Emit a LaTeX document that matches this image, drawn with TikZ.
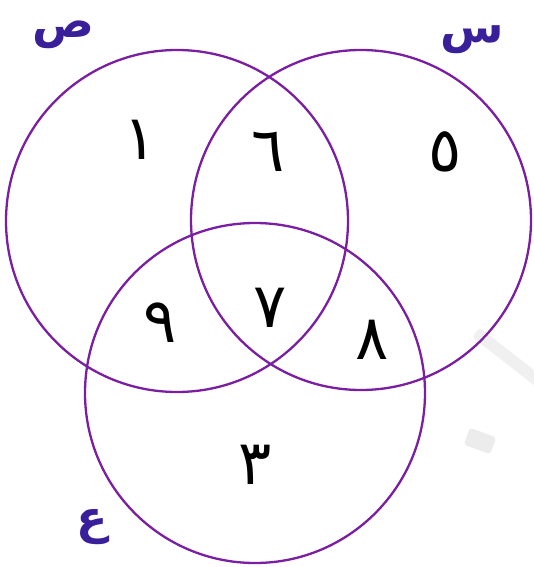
\documentclass[tikz,border=0pt]{standalone}
\usepackage{fontspec}
\TeXXeTstate=1
\newfontfamily\arabicfont[Script=Arabic]{DejaVu Sans}
\definecolor{circpurple}{HTML}{7B1FA2}
\definecolor{letterblue}{HTML}{3A1F9A}
\tikzset{
  setcircle/.style={draw=circpurple, line width=2.3pt},
  digit/.style={font=\arabicfont\fontsize{62}{62}\selectfont, text=black, inner sep=0pt},
  setname/.style={font=\arabicfont\bfseries\fontsize{46}{46}\selectfont, text=letterblue, inner sep=0pt},
}
\begin{document}
\begin{tikzpicture}[x=1pt,y=-1pt]
\useasboundingbox (0,0) rectangle (534,567);
% faint watermark
\fill[gray!12, rounded corners=3pt, rotate around={-38:(505,355)}] (468,349) rectangle (550,361);
\fill[gray!15, rounded corners=3pt, rotate around={-20:(480,441)}] (466,432) rectangle (494,450);
% circles
\node[setcircle, circle, minimum size=342pt, inner sep=0pt] (S) at (177,221) {};
\node[setcircle, circle, minimum size=340pt, inner sep=0pt] (R) at (361,220) {};
\node[setcircle, circle, minimum size=340pt, inner sep=0pt] (E) at (255,393) {};
% set names
\node[setname] (nS) at (63,35) {\beginR ص\endR};
\node[setname] (nR) at (472,40) {\beginR س\endR};
\node[setname] (nE) at (92,527) {\beginR ع\endR};
% digits
\node[digit] (d1) at (140,140) {\beginR ١\endR};
\node[digit] (d6) at (268,152) {\beginR ٦\endR};
\node[digit] (d5) at (445,152) {\beginR ٥\endR};
\node[digit] (d9) at (160,323) {\beginR ٩\endR};
\node[digit] (d7) at (270,308) {\beginR ٧\endR};
\node[digit] (d8) at (372,340) {\beginR ٨\endR};
\node[digit] (d3) at (255,465) {\beginR ٣\endR};
\end{tikzpicture}
\end{document}
